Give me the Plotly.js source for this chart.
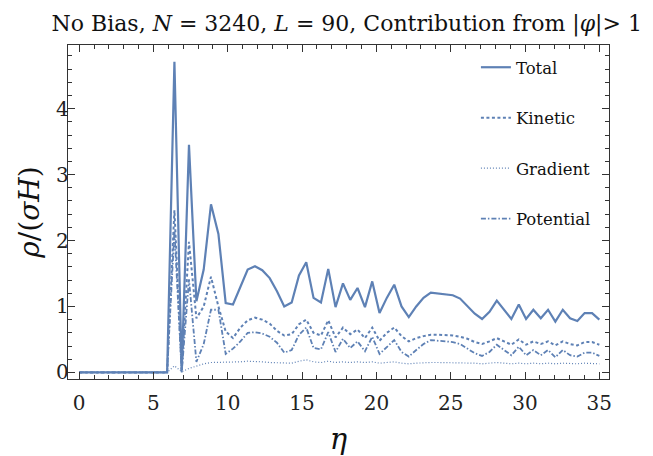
<!DOCTYPE html>
<html>
<head>
<meta charset="utf-8">
<script src="https://cdn.plot.ly/plotly-3.0.1.min.js"></script>
<style>html,body{margin:0;padding:0;background:#fff;}#chart{width:653px;height:456px;}</style>
</head>
<body>
<div id="chart"></div>
<script>
// eta grid (72 samples from 0 to 35)
const eta = [0.00,0.49,0.99,1.48,1.97,2.46,2.96,3.45,3.94,4.44,4.93,5.42,5.92,6.41,6.90,7.39,7.89,8.38,8.87,9.37,
  9.86,10.35,10.85,11.34,11.83,12.32,12.82,13.31,13.80,14.30,14.79,15.28,15.77,16.27,16.76,17.25,17.75,18.24,18.73,19.23,
  19.72,20.21,20.70,21.20,21.69,22.18,22.68,23.17,23.66,24.15,24.65,25.14,25.63,26.13,26.62,27.11,27.61,28.10,28.59,29.08,
  29.58,30.07,30.56,31.06,31.55,32.04,32.54,33.03,33.52,34.01,34.51,35.00];

const total = [0,0,0,0,0,0,0,0,0,0,0,0,0,4.71,0.03,3.45,1.08,1.56,2.55,2.10,
  1.05,1.03,1.31,1.56,1.61,1.55,1.43,1.23,1.00,1.06,1.47,1.67,1.13,1.06,1.57,0.99,1.35,1.10,1.28,0.99,
  1.38,0.90,1.13,1.33,1.00,0.84,1.00,1.13,1.21,1.20,1.19,1.17,1.12,1.01,0.89,0.81,0.92,1.09,0.95,0.81,
  1.03,0.81,0.95,0.82,0.95,0.77,0.95,0.82,0.78,0.90,0.90,0.80];

const kinetic = [0,0,0,0,0,0,0,0,0,0,0,0,0,2.46,0.02,1.98,0.82,1.00,1.45,1.00,
  0.62,0.52,0.68,0.79,0.83,0.80,0.74,0.63,0.56,0.58,0.73,0.80,0.60,0.56,0.79,0.53,0.68,0.58,0.65,0.52,
  0.68,0.48,0.60,0.68,0.55,0.47,0.52,0.55,0.57,0.57,0.57,0.56,0.54,0.51,0.46,0.43,0.47,0.52,0.47,0.42,
  0.50,0.42,0.47,0.43,0.47,0.41,0.47,0.43,0.41,0.46,0.46,0.42];

const gradient = [0,0,0,0,0,0,0,0,0,0,0,0,0,0.10,0.01,0.06,0.10,0.13,0.15,0.15,
  0.15,0.15,0.16,0.17,0.17,0.16,0.15,0.15,0.14,0.14,0.17,0.19,0.16,0.15,0.17,0.15,0.16,0.15,0.16,0.15,
  0.16,0.14,0.15,0.16,0.14,0.13,0.14,0.15,0.15,0.15,0.15,0.15,0.15,0.14,0.14,0.13,0.14,0.15,0.14,0.13,
  0.14,0.13,0.14,0.13,0.14,0.13,0.14,0.13,0.13,0.14,0.14,0.13];

const potential = [0,0,0,0,0,0,0,0,0,0,0,0,0,2.15,0.00,1.41,0.16,0.43,0.95,0.95,
  0.28,0.36,0.47,0.60,0.61,0.59,0.54,0.45,0.30,0.34,0.57,0.68,0.37,0.35,0.61,0.31,0.51,0.37,0.47,0.32,
  0.54,0.28,0.38,0.49,0.31,0.24,0.34,0.43,0.49,0.48,0.47,0.46,0.43,0.36,0.29,0.25,0.31,0.42,0.34,0.26,
  0.39,0.26,0.34,0.26,0.34,0.23,0.34,0.26,0.24,0.30,0.30,0.25];

const seriesNames = ['Total','Kinetic','Gradient','Potential'];
const xTicks = [0,5,10,15,20,25,30,35];
const yTicks = [0,1,2,3,4];

const col = '#5e81b5';
const styles = [
  {width:2.2, dash:'solid'},
  {width:2.0, dash:'3px,2.5px'},
  {width:1.2, dash:'1px,2px'},
  {width:1.8, dash:'5px,2px,1.5px,2px'}
];
const ys = [total, kinetic, gradient, potential];
const traces = ys.map((y,i)=>({
  x: eta, y: y, type:'scatter', mode:'lines', name: seriesNames[i],
  legendgroup: 'g'+i,
  line: {color: col, width: styles[i].width, dash: styles[i].dash}
}));

const font = '"DejaVu Serif", serif';
const axisCommon = {
  showgrid:false, zeroline:false, showline:true, linecolor:'#333', linewidth:1.2,
  mirror:'allticks', ticks:'inside', ticklen:7, tickwidth:1, tickcolor:'#333',
  tickfont:{family:font, size:20, color:'#222'}
};

const layout = {
  width:653, height:456,
  font:{family:font},
  paper_bgcolor:'#fff', plot_bgcolor:'#fff',
  margin:{l:68, r:44, t:45, b:77},
  showlegend:true,
  title:{text:'No Bias, <i>N</i> = 3240, <i>L</i> = 90, Contribution from |<i>φ</i>|> 1',
    font:{family:font, size:22, color:'#111'}, x:0.531, xref:'container', xanchor:'center',
    y:0.950, yref:'container', yanchor:'middle'},
  xaxis: Object.assign({}, axisCommon, {
    range:[-0.75, 35.65], tickvals:xTicks, ticktext:xTicks.map(String),
    ticklabelstandoff:6,
    minor:{dtick:1, tick0:0, ticks:'inside', ticklen:4, tickcolor:'#333'},
    title:{text:'<i>η</i>', font:{family:font, size:29, color:'#111'}, standoff:14}
  }),
  yaxis: Object.assign({}, axisCommon, {
    range:[-0.1, 4.965], tickvals:yTicks, ticktext:yTicks.map(String),
    ticklabelstandoff:-6,
    minor:{dtick:0.2, tick0:0, ticks:'inside', ticklen:4, tickcolor:'#333'},
    title:{text:'<i>ρ</i>/(<i>σH</i>)', font:{family:font, size:28, color:'#111'}, standoff:8}
  }),
  legend:{x:0.754, y:0.985, xanchor:'left', yanchor:'top', bgcolor:'rgba(0,0,0,0)',
    font:{family:font, size:16.5, color:'#111'}, tracegroupgap:26, itemwidth:30}
};

Plotly.newPlot('chart', traces, layout, {displayModeBar:false, staticPlot:true});
</script>
</body>
</html>
